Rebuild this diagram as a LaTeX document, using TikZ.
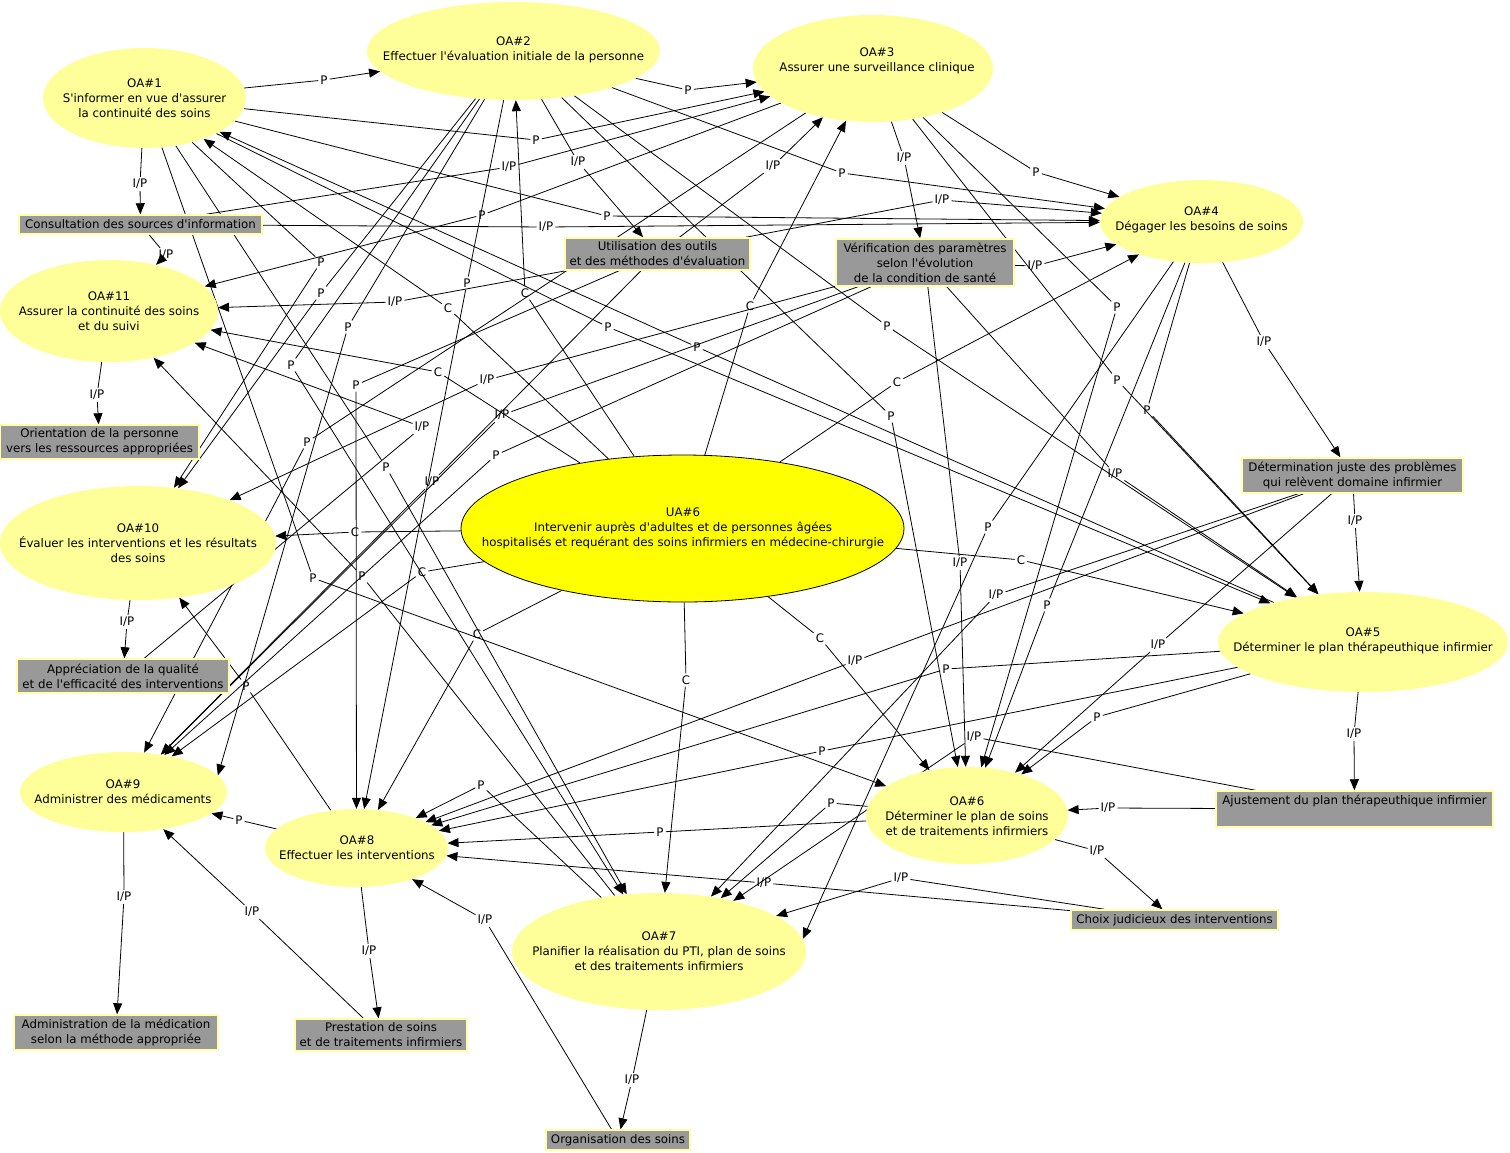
\documentclass[tikz,border=0pt]{standalone}
\usepackage{fontspec}
\setmainfont{DejaVu Sans}[Ligatures=TeXOff]
\usetikzlibrary{shapes.geometric,arrows.meta}
\pgfdeclarelayer{paper}
\pgfdeclarelayer{bg}
\pgfsetlayers{paper,bg,main}
\definecolor{oafill}{RGB}{255,255,153}
\definecolor{uafill}{RGB}{255,255,0}
\definecolor{boxfill}{RGB}{153,153,153}
\definecolor{boxline}{RGB}{255,255,170}
\newcommand\fs{\fontsize{11.8}{15}\selectfont}
\def\labP{P}\def\labIP{I/P}\def\labC{C}
\tikzset{
  oa/.style={ellipse, fill=oafill, inner sep=0pt},
  ua/.style={ellipse, fill=uafill, draw=black, line width=0.8pt, inner sep=0pt},
  bx/.style={rectangle, fill=boxfill, draw=boxline, line width=1.5pt, inner sep=0pt, align=center, font=\fs},
  txt/.style={align=center, font=\fs, inner sep=0pt},
  lab/.style={font=\fs, inner sep=2pt},
  edge/.style={line width=0.8pt, -{Triangle[length=11pt,width=9pt]}},
}
\def\edgelist{oa1/oa2/324/80/P,
 oa2/oa3/688/90/P,
 oa1/oa3/536/140/P,
 cons/oa3/509/167/IP,
 oa2/util/578/162/IP,
 util/oa3/773/166/IP,
 oa2/oa4/842/173/P,
 oa3/oa4/1036/172/P,
 oa3/verif/904/158/IP,
 util/oa4/942/200/IP,
 oa1/oa4/607/216/P,
 cons/oa4/546/227/IP,
 oa1/cons/140/184/IP,
 cons/oa11/166/255/IP,
 oa3/oa11/482/215/P,
 util/oa11/395/302/IP,
 ua6/oa11/438/372/C,
 appr/oa11/422/427/IP,
 oa11/orient/97/395/IP,
 ua6/oa1/448/308/C,
 ua6/oa2/525/293/C,
 ua6/oa3/750/306/C,
 ua6/oa4/897/382/C,
 verif/oa4/1035/266/IP,
 oa4/det/1264/342/IP,
 det/oa5/1355/521/IP,
 oa5/ajust/1354/734/IP,
 ajust/oa6/1108/808/IP,
 oa6/choix/1097/851/IP,
 choix/oa7/901/878/IP,
 choix/oa8/764/883/IP,
 oa6/oa8/660/832/P,
 oa6/oa7/831/803/P,
 oa5/oa8/822/751/P,
 oa5/oa8/946/669/P,
 det/oa8/855/661/IP,
 verif/oa6/960/563/IP,
 ua6/oa5/1021/560/C,
 ua6/oa6/820/638/C,
 ua6/oa7/686/680/C,
 ua6/oa8/477/634/C,
 ua6/oa10/355/532/C,
 ua6/oa9/422/572/C,
 oa10/appr/127/622/IP,
 oa9/admin/124/897/IP,
 oa8/oa9/239/820/P,
 prest/oa9/252/912/IP,
 oa8/prest/369/951/IP,
 org/oa8/485/920/IP,
 oa7/org/632/1080/IP,
 oa8/oa10/246/686/P,
 oa7/oa8/481/785/P,
 det/oa7/996/595/IP,
 det/oa6/1158/645/IP,
 oa5/oa6/1097/717/P,
 oa4/oa6/1047/605/P,
 oa4/oa7.5/988/527/P,
 oa2/oa5/887/326/P,
 oa2/oa6/891/416/P,
 oa5/oa1/697/347/P,
 oa1/oa5/608/327/P,
 oa3/oa6/1117/307/P,
 oa3/oa5/1117/380/P,
 oa4/oa5/1147/410/P,
 verif/oa5/1115/474/IP,
 oa1/oa10/321/262/P,
 oa2/oa10/321/293/P,
 oa2/oa9.10/348/327/P,
 oa2/oa7/291/365/P,
 oa3/oa9/307/442/P,
 oa1/oa7/386/467/P,
 oa1/oa6/313/578/P,
 oa7/oa11/362/576/P,
 verif/oa10/487/380/IP,
 verif/oa9/502/415/IP,
 verif/oa9/496/455/P,
 util/oa9/432/482/IP,
 util/oa8/356/385/P,
 oa2/oa8/467/283/P,
 ajust/oa7/974/737/IP}
\begin{document}
\begin{tikzpicture}[x=1pt,y=-1pt]
\begin{pgfonlayer}{paper}
\fill[white] (0,0) rectangle (1510,1152);
\end{pgfonlayer}
\useasboundingbox (0,0) rectangle (1510,1152);
% ellipses
\node[oa, minimum width=203pt, minimum height=100pt] (oa1) at (144.5,98) {};
\node[txt] at (144.5,98) {OA\#1\\S'informer en vue d'assurer\\la continuité des soins};
\node[oa, minimum width=293pt, minimum height=98pt] (oa2) at (513.5,51) {};
\node[txt] at (513.5,50) {OA\#2\\Effectuer l'évaluation initiale de la personne};
\node[oa, minimum width=240pt, minimum height=107pt] (oa3) at (873,68.5) {};
\node[txt] at (877,60.5) {OA\#3\\Assurer une surveillance clinique};
\node[oa, minimum width=203pt, minimum height=83pt] (oa4) at (1201.5,221.5) {};
\node[txt] at (1201.5,219.5) {OA\#4\\Dégager les besoins de soins};
\node[oa, minimum width=290pt, minimum height=100pt] (oa5) at (1363,642) {};
\node[txt] at (1363,640.5) {OA\#5\\Déterminer le plan thérapeuthique infirmier};
\node[oa, minimum width=202pt, minimum height=97pt] (oa6) at (967,815.5) {};
\node[txt] at (967,816) {OA\#6\\Déterminer le plan de soins\\et de traitements infirmiers};
\node[oa, minimum width=294pt, minimum height=117pt] (oa7) at (659,951.5) {};
\node[txt] at (659,951) {OA\#7\\Planifier la réalisation du PTI, plan de soins\\et des traitements infirmiers};
\node[oa, minimum width=183pt, minimum height=78pt] (oa8) at (356.5,848) {};
\node[txt] at (357,847.5) {OA\#8\\Effectuer les interventions};
\node[oa, minimum width=207pt, minimum height=80pt] (oa9) at (123.5,792) {};
\node[txt] at (123,791.5) {OA\#9\\Administrer des médicaments};
\node[oa, minimum width=276pt, minimum height=114pt] (oa10) at (138,543) {};
\node[txt] at (138,543) {OA\#10\\Évaluer les interventions et les résultats\\des soins};
\node[oa, minimum width=218pt, minimum height=102pt] (oa11) at (109,311) {};
\node[txt] at (109,311) {OA\#11\\Assurer la continuité des soins\\et du suivi};
\node[ua, minimum width=443pt, minimum height=147pt] (ua6) at (682.5,528.5) {};
\node[txt] at (683,528) {UA\#6\\Intervenir auprès d'adultes et de personnes âgées\\hospitalisés et requérant des soins infirmiers en médecine-chirurgie};
% boxes
\node[bx, minimum width=243pt, minimum height=19pt] (cons) at (140.5,224.5) {Consultation des sources d'information};
\node[bx, minimum width=185pt, minimum height=32pt] (util) at (657.5,254) {Utilisation des outils\\et des méthodes d'évaluation};
\node[bx, minimum width=178pt, minimum height=47pt] (verif) at (925,262.5) {Vérification des paramètres\\selon l'évolution\\de la condition de santé};
\node[bx, minimum width=199pt, minimum height=34pt] (orient) at (99.5,442) {Orientation de la personne\\vers les ressources appropriées};
\node[bx, minimum width=221pt, minimum height=35pt] (det) at (1352.5,475.5) {Détermination juste des problèmes\\qui relèvent domaine infirmier};
\node[bx, minimum width=212pt, minimum height=34pt] (appr) at (123,676) {Appréciation de la qualité\\et de l'efficacité des interventions};
\node[bx, minimum width=277pt, minimum height=36pt] (ajust) at (1354.5,809) {};
\node[txt] at (1354.5,801) {Ajustement du plan thérapeuthique infirmier};
\node[bx, minimum width=207pt, minimum height=20pt] (choix) at (1174.5,920) {Choix judicieux des interventions};
\node[bx, minimum width=204pt, minimum height=35pt] (admin) at (116,1032.5) {Administration de la médication\\selon la méthode appropriée};
\node[bx, minimum width=172pt, minimum height=32pt] (prest) at (381,1035) {Prestation de soins\\et de traitements infirmiers};
\node[bx, minimum width=144pt, minimum height=20pt] (org) at (618,1140) {Organisation des soins};
% labels
\foreach \s/\t/\x/\y/\l [count=\i] in \edgelist {
  \node[lab] (L\i) at (\x,\y) {\csname lab\l\endcsname};
}
% connectors
\begin{pgfonlayer}{bg}
\foreach \s/\t/\x/\y/\l [count=\i] in \edgelist {
  \draw[edge] (\s) -- (L\i) -- (\t);
}
\end{pgfonlayer}
\end{tikzpicture}
\end{document}
